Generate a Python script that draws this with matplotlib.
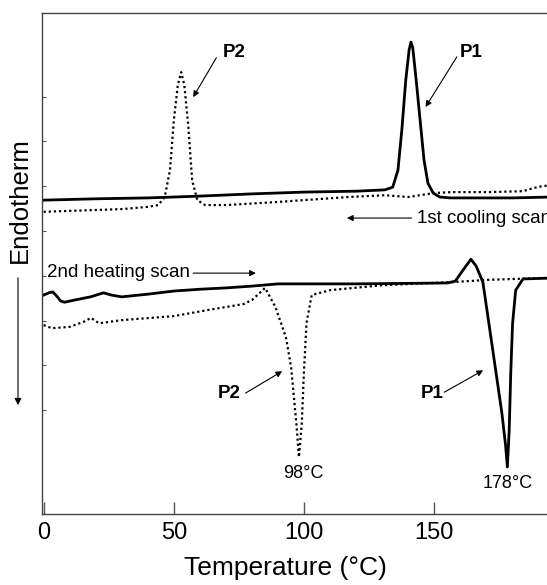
import matplotlib
matplotlib.use("Agg")
import matplotlib.pyplot as plt

plt.rcParams["font.family"] = ["Liberation Sans", "DejaVu Sans"]

# --- 1st cooling scan ---
cool_solid_t = [0, 20, 40, 60, 80, 100, 120, 131, 134, 136, 137.5, 139, 140.3, 141, 141.7,
                143, 144.5, 146, 147.5, 149.5, 152, 156, 165, 180, 195, 205]
cool_solid_y = [4.69, 4.72, 4.74, 4.78, 4.83, 4.87, 4.89, 4.92, 4.98, 5.36, 6.26, 7.37, 8.05, 8.22, 8.09,
                7.37, 6.48, 5.59, 5.07, 4.85, 4.76, 4.74, 4.74, 4.74, 4.76, 4.76]

cool_dot_t = [0, 10, 20, 30, 40, 44, 46.5, 48.5, 50, 51.5, 52.8, 54, 55.5, 57, 59, 62, 70, 90,
              117, 131, 140, 150, 157, 171, 184, 188, 192, 196, 205]
cool_dot_y = [4.43, 4.45, 4.47, 4.49, 4.54, 4.58, 4.76, 5.36, 6.48, 7.26, 7.55, 7.26, 6.37, 5.14,
              4.69, 4.58, 4.58, 4.65, 4.76, 4.80, 4.76, 4.85, 4.87, 4.87, 4.89, 4.96, 5.01, 5.01, 5.03]

# --- 2nd heating scan ---
heat_solid_t = [0, 2, 3.5, 5, 6.5, 8, 12, 18, 23, 26, 30, 40, 50, 60, 70, 80, 90, 120, 155, 158,
                161, 164, 166, 168.6, 172, 175.9, 177.3, 178, 178.7, 179.3, 180, 181.2, 184, 195, 205]
heat_solid_y = [2.57, 2.62, 2.64, 2.55, 2.44, 2.41, 2.46, 2.53, 2.62, 2.57, 2.53, 2.59, 2.66, 2.70,
                2.73, 2.77, 2.82, 2.82, 2.84, 2.88, 3.13, 3.37, 3.22, 2.86, 1.50, -0.07, -0.78, -1.27,
                -0.45, 0.83, 1.94, 2.68, 2.93, 2.95, 2.95]

heat_dot_t = [0, 3.2, 10, 15.3, 18.2, 21.3, 30, 50, 63.5, 76.8, 80, 85, 89, 93, 95, 97, 98, 99.1,
              99.9, 100.9, 102.9, 110, 130, 157, 170.6, 190.8, 205]
heat_dot_y = [1.90, 1.83, 1.86, 1.97, 2.06, 1.94, 2.01, 2.10, 2.24, 2.37, 2.46, 2.73, 2.30, 1.63,
              0.96, -0.29, -1.05, -0.29, 0.83, 1.94, 2.57, 2.68, 2.79, 2.86, 2.91, 2.95, 2.95]

fig = plt.figure(figsize=(5.47, 5.85), dpi=100)
# axes runs off the right edge of the picture, as in the scanned figure
ax = fig.add_axes([41.7 / 547, 71 / 585, (560 - 41.7) / 547, 501 / 585])

ax.plot(cool_solid_t, cool_solid_y, color="black", lw=2.0)
ax.plot(cool_dot_t, cool_dot_y, color="black", lw=1.6, ls=(0, (1, 1.3)))
ax.plot(heat_solid_t, heat_solid_y, color="black", lw=2.0)
ax.plot(heat_dot_t, heat_dot_y, color="black", lw=1.6, ls=(0, (1, 1.3)))

ax.set_xlim(-0.73, 198.2)
ax.set_ylim(-2.32, 8.87)
ax.set_xticks([0, 50, 100, 150])
ax.set_yticks(range(0, 8))
ax.set_yticklabels([])
ax.tick_params(axis="x", direction="in", length=9, width=1, color="#555555", labelsize=17, pad=6)
ax.tick_params(axis="y", direction="in", length=3, width=0.8, color="#555555")
for s in ax.spines.values():
    s.set_color("#444444")
    s.set_linewidth(1.0)
ax.spines["right"].set_visible(False)

arrow = dict(arrowstyle="-|>", color="black", lw=0.8, mutation_scale=9, shrinkA=0, shrinkB=0)

# top labels
ax.text(73.1, 7.98, "P2", fontsize=13.5, fontweight="bold", ha="center", va="center")
ax.annotate("", xy=(57.4, 6.99), xytext=(66.3, 7.87), arrowprops=arrow)
ax.text(164.3, 7.98, "P1", fontsize=13.5, fontweight="bold", ha="center", va="center")
ax.annotate("", xy=(146.6, 6.77), xytext=(158.6, 7.89), arrowprops=arrow)

ax.annotate("", xy=(116.4, 4.29), xytext=(141.2, 4.29), arrowprops=arrow)
ax.text(143.3, 4.29, "1st cooling scan", fontsize=13.5, ha="left", va="center", clip_on=False)

ax.text(1.2, 3.08, "2nd heating scan", fontsize=13.5, ha="left", va="center")
ax.annotate("", xy=(81.5, 3.06), xytext=(57.4, 3.06), arrowprops=arrow)

# bottom labels
ax.text(71.1, 0.38, "P2", fontsize=13.5, fontweight="bold", ha="center", va="center")
ax.annotate("", xy=(91.6, 0.87), xytext=(77.5, 0.38), arrowprops=arrow)
ax.text(149, 0.38, "P1", fontsize=13.5, fontweight="bold", ha="center", va="center")
ax.annotate("", xy=(168.7, 0.89), xytext=(153.8, 0.40), arrowprops=arrow)

ax.text(99.6, -1.41, "98°C", fontsize=13, ha="center", va="center")
ax.text(178.3, -1.63, "178°C", fontsize=13, ha="center", va="center")

fig.text(285.7 / 547, 1 - 568 / 585, "Temperature (°C)", fontsize=19, ha="center", va="center")
fig.text(19.5 / 547, 1 - 200 / 585, "Endotherm", fontsize=18.5, rotation=90, ha="center", va="center")
fig.add_artist(matplotlib.patches.FancyArrowPatch((18, 585 - 275), (18, 585 - 408),
                                                  transform=None, arrowstyle="-|>",
                                                  mutation_scale=10, color="black", lw=0.8))

fig.savefig("out.png", dpi=100)
